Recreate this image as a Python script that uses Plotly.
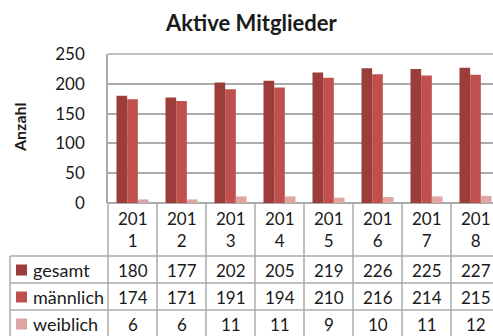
import plotly.graph_objects as go

# Member counts per year
years = ["2011", "2012", "2013", "2014", "2015", "2016", "2017", "2018"]
gesamt = [180, 177, 202, 205, 219, 226, 225, 227]
maennlich = [174, 171, 191, 194, 210, 216, 214, 215]
weiblich = [6, 6, 11, 11, 9, 10, 11, 12]

series_names = ["gesamt", "männlich", "weiblich"]
series_values = [gesamt, maennlich, weiblich]
series_colors = ["#9B3D3B", "#C0504D", "#DDA5A4"]

y_ticks = [0, 50, 100, 150, 200, 250]

W, H = 493, 336
PL, PT, PR, PB = 108, 54, 493, 203          # plot area in pixels
CAT_W = 49                                   # pixel width of one category
x_lo = -0.5
x_hi = x_lo + (PR - PL) / CAT_W

FONT = "Lato"
TXT = "#1A1A1A"
GRID = "#ABABAB"


def px_x(px):
    return (px - PL) / (PR - PL)


def px_y(py):
    return (PB - py) / (PB - PT)


def cat_x(v):
    return (v - x_lo) / (x_hi - x_lo)


fig = go.Figure()
for name, vals, col in zip(series_names, series_values, series_colors):
    fig.add_trace(go.Bar(
        x=list(range(len(years))), y=vals, name=name,
        marker=dict(color=col, line=dict(width=0)),
        showlegend=False,
    ))

shapes = []
annotations = []

# data table rows: boundaries in pixels
row_lines = [256, 283, 310, 337]
row_centers = [270, 297, 324]

# horizontal table lines
for yl in row_lines:
    shapes.append(dict(type="line", xref="paper", yref="paper",
                       x0=px_x(10), x1=px_x(W + 20), y0=px_y(yl), y1=px_y(yl),
                       line=dict(color=GRID, width=1.5)))
# left border of label column
shapes.append(dict(type="line", xref="paper", yref="paper",
                   x0=px_x(10), x1=px_x(10), y0=px_y(row_lines[0]), y1=px_y(H + 5),
                   line=dict(color=GRID, width=1.5)))
# column separators
for k in range(len(years) + 1):
    xv = cat_x(k - 0.5)
    shapes.append(dict(type="line", xref="paper", yref="paper",
                       x0=xv, x1=xv, y0=0, y1=px_y(H + 5),
                       line=dict(color=GRID, width=1.5)))
# top border of plot area
shapes.append(dict(type="line", xref="paper", yref="paper",
                   x0=0, x1=1.05, y0=1, y1=1,
                   line=dict(color=GRID, width=1.5)))

# header row: year labels split over two lines
for i, yr in enumerate(years):
    annotations.append(dict(x=cat_x(i), xref="paper", y=px_y(229.5), yref="paper",
                            text=yr[:3] + "<br>" + yr[3:], showarrow=False,
                            xanchor="center", yanchor="middle",
                            font=dict(family=FONT, size=17, color=TXT)))

# table body
for r, (name, vals, col) in enumerate(zip(series_names, series_values, series_colors)):
    yc = px_y(row_centers[r])
    shapes.append(dict(type="rect", xref="paper", yref="paper",
                       x0=px_x(16), x1=px_x(27), y0=yc - 5.5 / 149, y1=yc + 5.5 / 149,
                       fillcolor=col, line=dict(width=0)))
    annotations.append(dict(x=px_x(31), xref="paper", y=yc, yref="paper",
                            text=name, showarrow=False,
                            xanchor="left", yanchor="middle",
                            font=dict(family=FONT, size=18, color=TXT)))
    for i, v in enumerate(vals):
        annotations.append(dict(x=cat_x(i), xref="paper", y=yc, yref="paper",
                                text=str(v), showarrow=False,
                                xanchor="center", yanchor="middle",
                                font=dict(family=FONT, size=17, color=TXT)))

# chart title and axis title
annotations.append(dict(x=px_x(251), xref="paper", y=px_y(22), yref="paper",
                        text="<b>Aktive Mitglieder</b>", showarrow=False,
                        xanchor="center", yanchor="middle",
                        font=dict(family=FONT, size=22, color=TXT)))
annotations.append(dict(x=px_x(19), xref="paper", y=px_y(127), yref="paper",
                        text="<b>Anzahl</b>", showarrow=False, textangle=-90,
                        xanchor="center", yanchor="middle",
                        font=dict(family=FONT, size=16, color=TXT)))

fig.update_layout(
    width=W, height=H,
    margin=dict(l=PL, r=W - PR, t=PT, b=H - PB, pad=0),
    paper_bgcolor="white", plot_bgcolor="white",
    barmode="group", bargap=17 / 49, bargroupgap=0,
    xaxis=dict(range=[x_lo, x_hi], showticklabels=False,
               showgrid=False, zeroline=False, showline=False, ticks=""),
    yaxis=dict(range=[0, 250], tickvals=y_ticks, showgrid=True,
               gridcolor=GRID, gridwidth=1.5, zeroline=True,
               zerolinecolor=GRID, zerolinewidth=1.5,
               showline=True, linecolor=GRID, linewidth=1.5,
               ticks="", ticklabelstandoff=18,
               tickfont=dict(family=FONT, size=17, color=TXT)),
    shapes=shapes,
    annotations=annotations,
)

fig.write_html("out.html")
